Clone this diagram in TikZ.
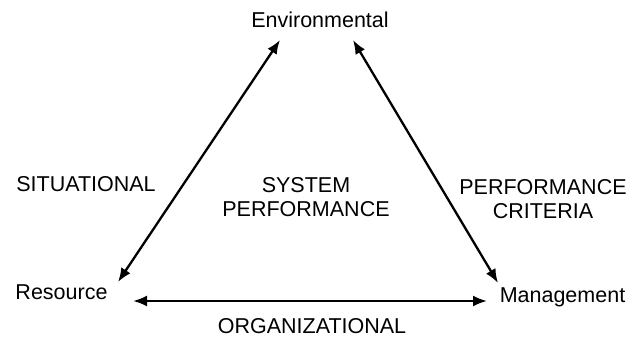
\documentclass[tikz,border=0pt]{standalone}
\usepackage{fontspec}
\setmainfont{Liberation Sans}
\usetikzlibrary{arrows.meta}
\begin{document}
\begin{tikzpicture}[x=1pt,y=-1pt,
  lbl/.style={font=\fontsize{21.5}{24}\selectfont, inner sep=0pt, align=center},
  link/.style={line width=2.3pt, {Latex[length=14pt,width=11pt]}-{Latex[length=14pt,width=11pt]}}]
\useasboundingbox[fill=white] (0,0) rectangle (642,339);
% vertices
\node[lbl, anchor=base] (env) at (320,28) {Environmental};
\node[lbl, anchor=base] (res) at (61.5,299) {Resource};
\node[lbl, anchor=base] (man) at (562.5,302) {Management};
% side and centre labels
\node[lbl, anchor=base] (sit) at (86,192) {SITUATIONAL};
\node[lbl] (sys) at (306,197.5) {SYSTEM\\PERFORMANCE};
\node[lbl] (crit) at (543,199) {PERFORMANCE\\CRITERIA};
\node[lbl, anchor=base] (org) at (312,333) {ORGANIZATIONAL};
% connector ends
\coordinate (envL) at (280,40);
\coordinate (envR) at (353,40);
\coordinate (resT) at (118,282);
\coordinate (resR) at (133,301);
\coordinate (manT) at (498,283);
\coordinate (manL) at (487,301);
\draw[link] (envL) -- (resT);
\draw[link] (envR) -- (manT);
\draw[link] (resR) -- (manL);
\end{tikzpicture}
\end{document}
